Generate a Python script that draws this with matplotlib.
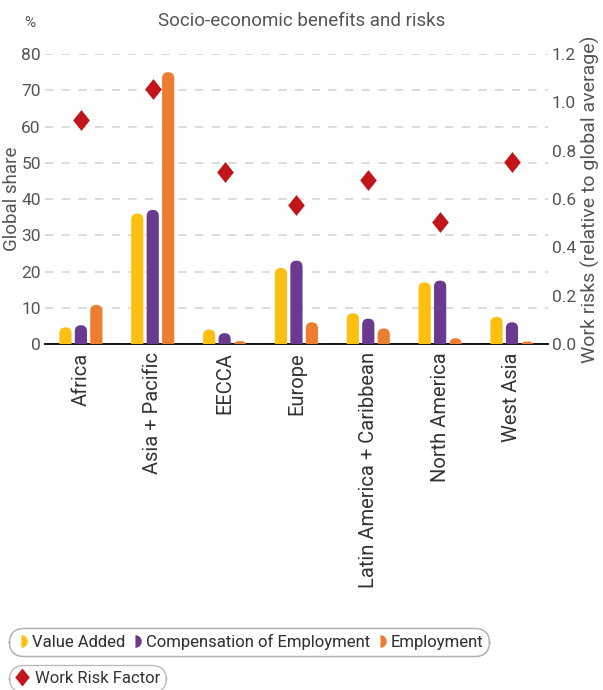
import numpy as np
import matplotlib
matplotlib.use("Agg")
import matplotlib.pyplot as plt
from matplotlib.patches import FancyBboxPatch
from matplotlib.lines import Line2D

plt.rcParams['font.family'] = ['Roboto', 'DejaVu Sans']

regions = ["Africa", "Asia + Pacific", "EECCA", "Europe",
           "Latin America + Caribbean", "North America", "West Asia"]
value_added  = [4.6, 36, 4.0, 21, 8.5, 17, 7.5]
compensation = [5.2, 37, 3.0, 23, 7.0, 17.5, 6.0]
employment   = [10.8, 75, 0.8, 6.0, 4.3, 1.6, 0.7]
work_risk    = [0.925, 1.055, 0.71, 0.575, 0.68, 0.505, 0.755]

c_va, c_coe, c_emp, c_risk = "#FDC010", "#6A3A8F", "#ED7D31", "#C0161B"
grey = "#555555"
diamond = [(0, 1), (0.8, 0), (0, -1), (-0.8, 0), (0, 1)]

fig = plt.figure(figsize=(6.03, 6.9), dpi=100)
ax = fig.add_axes([0.0746, 0.5014, 0.834, 0.4203])
ax2 = ax.twinx()

x = np.arange(len(regions))
bw = 0.17
off = 0.215
ax.set_xlim(-0.5, len(regions) - 0.5)
ax.set_ylim(0, 80)
ax2.set_ylim(0, 1.2)

# pixel scale for rounded bar tops
fig.canvas.draw()
bb = ax.get_window_extent()
px_x = bb.width / (len(regions))      # pixels per x unit
px_y = bb.height / 80.0               # pixels per y unit
r_px = bw * px_x / 2
aspect = px_x / px_y

def rounded_bars(vals, dx, color):
    for xi, v in zip(x, vals):
        ext = r_px / px_y
        h = v + ext
        r = min(r_px, h * px_y / 2) / px_x
        p = FancyBboxPatch((xi + dx - bw / 2, -ext), bw, h,
                           boxstyle="round,pad=0,rounding_size=%f" % r,
                           mutation_aspect=aspect, fc=color, ec="none",
                           zorder=3, clip_on=True)
        ax.add_patch(p)

rounded_bars(value_added, -off, c_va)
rounded_bars(compensation, 0, c_coe)
rounded_bars(employment, off, c_emp)

ax2.plot(x, work_risk, linestyle="none", marker=diamond, markersize=15,
         color=c_risk, markeredgewidth=0, zorder=4)

ax.set_yticks(range(0, 81, 10))
ax2.set_yticks(np.arange(0, 1.21, 0.2))
ax2.set_yticklabels(["%.1f" % t for t in np.arange(0, 1.21, 0.2)])
ax.grid(axis="y", color="#d5d5d5", linestyle=(0, (5, 5)), linewidth=1.2)
ax.set_axisbelow(True)

for a in (ax, ax2):
    for s in ["top", "left", "right"]:
        a.spines[s].set_visible(False)
    a.tick_params(axis="y", length=0, labelsize=12.5, labelcolor=grey, pad=3)
ax2.spines["bottom"].set_visible(False)
ax.spines["bottom"].set_color("black")
ax.spines["bottom"].set_linewidth(1.3)

ax.set_xticks(x)
ax.set_xticklabels(regions, rotation=90, fontsize=14.5, color="#333333")
ax.tick_params(axis="x", length=0, pad=6)

ax.set_ylabel("Global share", fontsize=13.5, color=grey)
ax.yaxis.set_label_coords(-0.048, 0.5)
ax2.set_ylabel("Work risks (relative to global average)", fontsize=14,
               color=grey, labelpad=3)

fig.text(0.5, 0.97, "Socio-economic benefits and risks", ha="center",
         va="center", fontsize=13.5, color=grey)
fig.text(0.05, 0.966, "%", ha="center", va="center", fontsize=11, color=grey)

# legends
half = dict(marker="o", fillstyle="right", linestyle="none", markersize=9,
            markeredgewidth=0, markerfacecoloralt="none")
h1 = [Line2D([], [], color=c_va, **half),
      Line2D([], [], color=c_coe, **half),
      Line2D([], [], color=c_emp, **half)]
leg1 = fig.legend(h1, ["Value Added", "Compensation of Employment", "Employment"],
                  ncol=3, loc="center left", bbox_to_anchor=(0.015, 0.07),
                  fontsize=12, frameon=True, fancybox=True, edgecolor="#aaaaaa",
                  handlelength=0.7, handletextpad=0.3, columnspacing=0.25,
                  borderpad=0.35, borderaxespad=0, labelcolor="#333333")
leg1.get_frame().set_boxstyle("round,pad=0,rounding_size=0.9")
fig.add_artist(leg1)
h2 = [Line2D([], [], color=c_risk, marker=diamond, linestyle="none",
             markersize=13, markeredgewidth=0)]
leg2 = fig.legend(h2, ["Work Risk Factor"], loc="center left",
                  bbox_to_anchor=(0.015, 0.017), fontsize=12, frameon=True,
                  fancybox=True, edgecolor="#aaaaaa", handlelength=0.8,
                  handletextpad=0.4, borderpad=0.35, borderaxespad=0,
                  labelcolor="#333333")
leg2.get_frame().set_boxstyle("round,pad=0,rounding_size=0.9")

fig.savefig("out.png", dpi=100)
